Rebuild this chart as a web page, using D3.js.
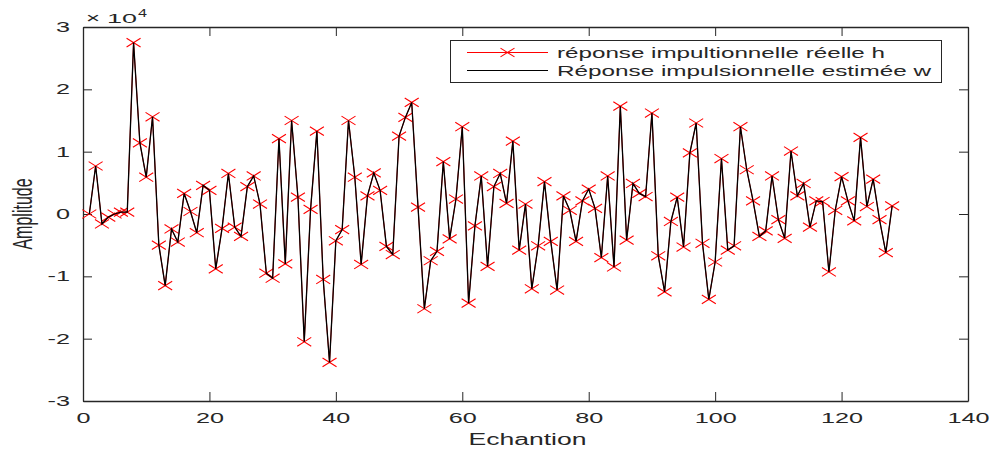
<!DOCTYPE html>
<meta charset="utf-8">
<style>
  body { margin: 0; background: #fff; }
  text { font-family: "Liberation Sans", Arial, sans-serif; fill: #262626; }
</style>
<svg width="993" height="451"></svg>
<script src="https://d3js.org/d3.v7.min.js"></script>
<script>
// amplitudes in units of 1e4, sample n = 1..128
var h = [0.0, 0.77, -0.16, -0.05, 0.0, 0.03, 0.03, 2.75, 1.14, 0.59,
  1.56, -0.50, -1.15, -0.24, -0.45, 0.33, 0.04, -0.30, 0.46, 0.38,
  -0.88, -0.23, 0.65, -0.21, -0.36, 0.44, 0.61, 0.16, -0.95, -1.03,
  1.21, -0.80, 1.50, 0.27, -2.05, 0.075, 1.33, -1.05, -2.38, -0.43,
  -0.25, 1.50, 0.59, -0.81, 0.29, 0.66, 0.38, -0.52, -0.65, 1.25,
  1.55, 1.79, 0.11, -1.52, -0.75, -0.60, 0.84, -0.40, 0.24, 1.40,
  -1.43, -0.19, 0.61, -0.84, 0.44, 0.65, 0.17, 1.17, -0.58, 0.16,
  -1.20, -0.51, 0.52, -0.44, -1.22, 0.29, 0.06, -0.44, 0.21, 0.40,
  0.09, -0.70, 0.61, -0.85, 1.73, -0.42, 0.49, 0.33, 0.28, 1.62,
  -0.67, -1.25, -0.12, 0.27, -0.53, 0.98, 1.46, -0.47, -1.37, -0.77,
  0.89, -0.58, -0.51, 1.40, 0.71, 0.21, -0.36, -0.27, 0.61, -0.09,
  -0.39, 1.01, 0.29, 0.49, -0.21, 0.21, 0.20, -0.93, 0.06, 0.60,
  0.21, -0.11, 1.23, 0.12, 0.56, -0.09, -0.62, 0.13];
// the estimate sits right on top of the real response at this scale
var w = h.slice();
var xTicks = [0, 20, 40, 60, 80, 100, 120, 140];
var yTicks = [-3, -2, -1, 0, 1, 2, 3];
var legendLabels = ["réponse impultionnelle réelle h", "Réponse impulsionnelle estimée w"];

var svg = d3.select("svg");
// plot box (avoid "top": it clashes with window.top)
var pl = 83, pr = 968, pt = 27, pb = 401;
var stretch = 1.8; // the source image is stretched horizontally

var x = d3.scaleLinear().domain([0, 140]).range([pl, pr]);
var y = d3.scaleLinear().domain([-3, 3]).range([pb, pt]);

var axisColor = "#262626";
var plain = function(d) { return String(d); }; // keep hyphen minus like matlab

// widen a text horizontally by k
function widen(sel, k) {
  sel.each(function() {
    var n = this.getComputedTextLength();
    d3.select(this).attr("textLength", n * k).attr("lengthAdjust", "spacingAndGlyphs");
  });
}

function styleAxis(g) {
  g.select(".domain").attr("stroke", axisColor).attr("stroke-width", 1.3);
  g.selectAll(".tick line").attr("stroke", axisColor);
  g.selectAll(".tick text").attr("fill", axisColor)
    .style("font-family", "Liberation Sans, Arial, sans-serif").style("font-size", "14px");
}
// axes, ticks inward like matlab box
var gx = svg.append("g").attr("transform", "translate(0," + pb + ")")
  .call(d3.axisBottom(x).tickValues(xTicks).tickFormat(plain).tickSizeInner(-9).tickSizeOuter(0).tickPadding(12))
  .call(styleAxis);
svg.append("g").attr("transform", "translate(0," + pt + ")")
  .call(d3.axisTop(x).tickValues(xTicks).tickSizeInner(-9).tickSizeOuter(0).tickFormat(""))
  .call(styleAxis);
var gy = svg.append("g").attr("transform", "translate(" + pl + ",0)")
  .call(d3.axisLeft(y).tickValues(yTicks).tickFormat(plain).tickSizeInner(-9).tickSizeOuter(0).tickPadding(13))
  .call(styleAxis);
svg.append("g").attr("transform", "translate(" + pr + ",0)")
  .call(d3.axisRight(y).tickValues(yTicks).tickSizeInner(-9).tickSizeOuter(0).tickFormat(""))
  .call(styleAxis);
widen(gx.selectAll(".tick text"), stretch);
widen(gy.selectAll(".tick text"), stretch);

// x10^4 exponent label
svg.append("text").attr("x", 86).attr("y", 22.5).style("font-size", "15px")
  .attr("textLength", 14).attr("lengthAdjust", "spacingAndGlyphs").text("\u00d7");
svg.append("text").attr("x", 107).attr("y", 22.5).style("font-size", "13px")
  .attr("textLength", 30).attr("lengthAdjust", "spacingAndGlyphs").text("10");
svg.append("text").attr("x", 138).attr("y", 16.5).style("font-size", "10px")
  .attr("textLength", 9).attr("lengthAdjust", "spacingAndGlyphs").text("4");

// axis titles
svg.append("text").attr("x", (pl + pr) / 2 + 2).attr("y", 445)
  .attr("text-anchor", "middle").style("font-size", "16px")
  .attr("textLength", 118).attr("lengthAdjust", "spacingAndGlyphs")
  .text("Echantion");
svg.append("text").attr("transform", "translate(31.5," + y(0) + ") scale(1.74,1) rotate(-90)")
  .attr("text-anchor", "middle").style("font-size", "16px")
  .text("Amplitude");

var line = d3.line().x(function(d, i) { return x(i + 1); }).y(function(d) { return y(d); });

// real response: red line with x markers
svg.append("path").datum(h).attr("d", line)
  .attr("fill", "none").attr("stroke", "#ff0000").attr("stroke-width", 1);

function cross(g, cx, cy) {
  var sx = 7, sy = 4.4;
  g.append("path")
    .attr("d", "M" + (cx - sx) + "," + (cy - sy) + "L" + (cx + sx) + "," + (cy + sy) +
               "M" + (cx - sx) + "," + (cy + sy) + "L" + (cx + sx) + "," + (cy - sy))
    .attr("stroke", "#ff0000").attr("stroke-width", 1.1).attr("fill", "none");
}
var marks = svg.append("g");
h.forEach(function(d, i) { cross(marks, x(i + 1), y(d)); });

// estimate: black line
svg.append("path").datum(w).attr("d", line)
  .attr("fill", "none").attr("stroke", "#000").attr("stroke-width", 1.3);

// legend
var lg = svg.append("g").attr("class", "legend");
lg.append("rect").attr("x", 450.5).attr("y", 40.5).attr("width", 491).attr("height", 42)
  .attr("fill", "#fff").attr("stroke", axisColor).attr("stroke-width", 1);
var legendY = [52.5, 70.5], legendLen = [328, 374];
legendLabels.forEach(function(t, i) {
  var ly = legendY[i];
  lg.append("line").attr("x1", 467).attr("x2", 548).attr("y1", ly).attr("y2", ly)
    .attr("stroke", i === 0 ? "#ff0000" : "#000").attr("stroke-width", 1);
  if (i === 0) cross(lg, 507.5, ly);
  lg.append("text").attr("x", 557).attr("y", ly + 5).style("font-size", "15px")
    .attr("textLength", legendLen[i]).attr("lengthAdjust", "spacingAndGlyphs").text(t);
});
</script>
